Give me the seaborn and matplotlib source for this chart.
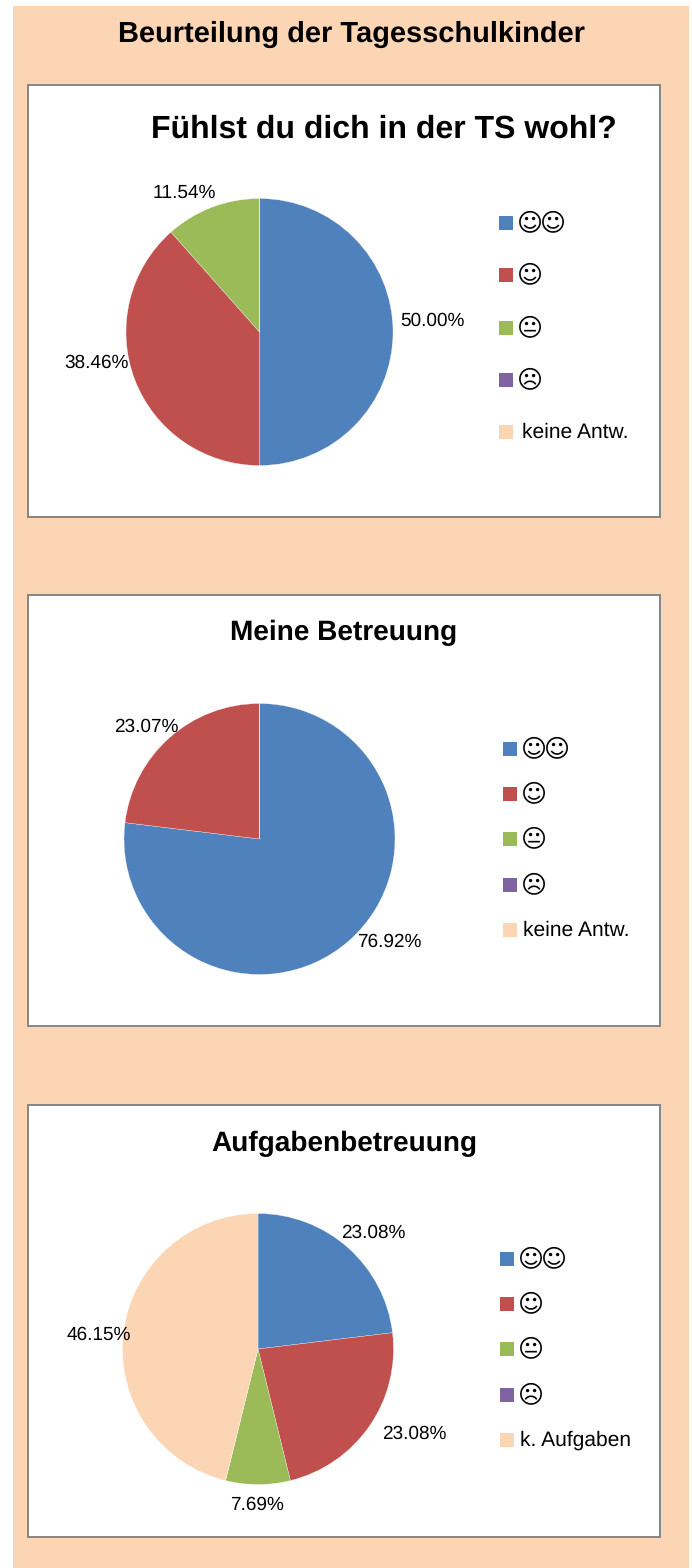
import matplotlib
matplotlib.use("Agg")
import matplotlib.pyplot as plt
import seaborn as sns
from matplotlib.patches import Rectangle

sns.set_theme(style="white")
plt.rcParams['font.family'] = ['Liberation Sans', 'DejaVu Sans']
plt.rcParams['text.hinting'] = 'no_hinting'
plt.rcParams['text.hinting_factor'] = 1

W, H = 692, 1568
PEACH = "#FCD5B5"
colors = ["#4F81BD", "#C0504D", "#9BBB59", "#8064A2", PEACH]
sns.set_palette(colors)

main_title = "Beurteilung der Tagesschulkinder"
titles = ["Fühlst du dich in der TS wohl?", "Meine Betreuung", "Aufgabenbetreuung"]
vals1 = [50.00, 38.46, 11.54, 0, 0]
vals2 = [76.92, 23.07, 0, 0, 0]
vals3 = [23.08, 23.08, 7.69, 0, 46.15]
labs1 = ["50.00%", "38.46%", "11.54%"]
labs2 = ["76.92%", "23.07%"]
labs3 = ["23.08%", "23.08%", "7.69%", "46.15%"]
leg_common = ["\u263A\u263A", "\u263A", "\U0001F610", "\u2639"]
leg_last = ["keine Antw.", "keine Antw.", "k. Aufgaben"]

def axbox(x0, y0, x1, y1):
    return [x0 / W, 1 - y1 / H, (x1 - x0) / W, (y1 - y0) / H]

fig = plt.figure(figsize=(W / 100, H / 100), dpi=100, facecolor="white")
fig.add_artist(Rectangle((13 / W, 0), (689 - 13) / W, 1 - 6 / H, transform=fig.transFigure,
                         facecolor=PEACH, edgecolor="none", zorder=-5))
fig.text(351 / W, 1 - 34 / H, main_title, ha="center", va="center", fontsize=21.2, fontweight="bold", color="black")

panels = [(28, 85, 660, 517), (28, 595, 660, 1026), (28, 1105, 660, 1537)]
centers = [(259.5, 332, 133.5), (259.5, 839, 135.5), (258, 1349, 135.5)]
title_pos = [(384, 129, 23), (344, 633, 20.2), (344, 1144, 20.2)]
all_vals = [vals1, vals2, vals3]
all_labs = [labs1, labs2, labs3]
lab_pos = [
    [(432, 321), (96, 363), (184, 193)],
    [(389, 942), (146, 727)],
    [(373, 1233), (414, 1434), (257, 1505), (99, 1335)],
]
leg_x = [(499, 519), (503, 523), (500, 520)]
leg_y = [[223, 275, 328, 380, 432], [749, 794, 839, 885, 930], [1259, 1304, 1349, 1395, 1440]]

for i in range(3):
    x0, y0, x1, y1 = panels[i]
    bg = fig.add_axes(axbox(x0, y0, x1, y1))
    bg.set_xlim(x0, x1); bg.set_ylim(y1, y0)
    bg.set_xticks([]); bg.set_yticks([])
    bg.set_facecolor("white")
    for s in bg.spines.values():
        s.set_visible(True); s.set_color("#868686"); s.set_linewidth(1.4)
    cx, cy, r = centers[i]
    pa = fig.add_axes(axbox(cx - r, cy - r, cx + r, cy + r))
    pa.patch.set_alpha(0)
    pa.pie(all_vals[i], colors=colors, startangle=90, counterclock=False, radius=1,
           wedgeprops=dict(linewidth=0.2, edgecolor="white"))
    pa.set_xlim(-1, 1); pa.set_ylim(-1, 1)
    for (lx, ly), t in zip(lab_pos[i], all_labs[i]):
        pa.text((lx - cx) / r, (cy - ly) / r, t, ha="center", va="center", fontsize=13.5,
                color="black", zorder=5, clip_on=False)
    bg.text(title_pos[i][0], title_pos[i][1], titles[i], ha="center", va="center",
            fontsize=title_pos[i][2], fontweight="bold", color="black")
    sx, tx = leg_x[i]
    names = leg_common + [leg_last[i]]
    for k, ly in enumerate(leg_y[i]):
        bg.add_patch(Rectangle((sx, ly - 7), 14, 14, facecolor=colors[k], edgecolor="none"))
        if k < 4:
            for j, ch in enumerate(names[k]):
                bg.text(tx + 11 + 23 * j, ly, ch, ha="center", va="center", fontsize=18,
                        family=['DejaVu Sans'], color="black")
        else:
            bg.text(tx + (3.5 if i == 0 else 0), ly, names[k], ha="left", va="center", fontsize=15.2, color="black")

fig.savefig("out.png", dpi=100, facecolor="white")
